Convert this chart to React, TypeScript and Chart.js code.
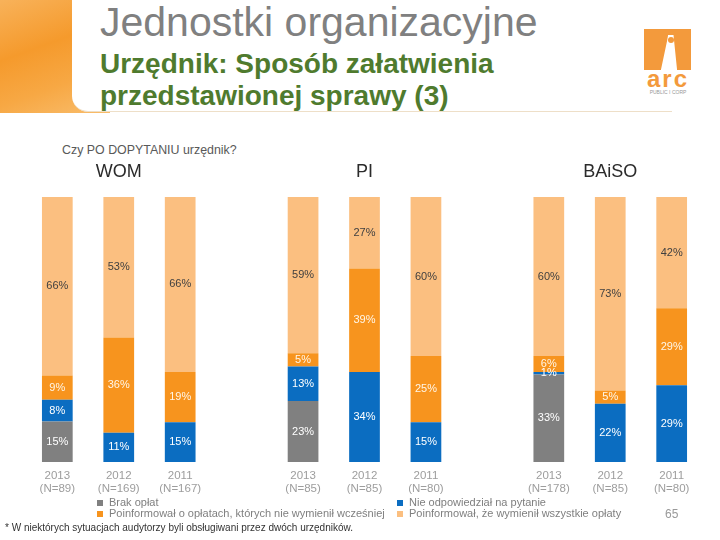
import React, { useEffect, useRef } from 'react';
import { Chart, registerables } from 'chart.js';

Chart.register(...registerables);

const FONT = '"Liberation Sans", Arial, Helvetica, sans-serif';

// Categories (empty slots separate the three groups)
const categories: string[][] = [
  ['2013', '(N=89)'], ['2012', '(N=169)'], ['2011', '(N=167)'], [''],
  ['2013', '(N=85)'], ['2012', '(N=85)'], ['2011', '(N=80)'], [''],
  ['2013', '(N=178)'], ['2012', '(N=85)'], ['2011', '(N=80)'],
];
const groupTitles = ['WOM', 'PI', 'BAiSO'];
const groupCenterIndex = [1, 5, 9];

const seriesNames = [
  'Brak opłat',
  'Nie odpowiedział na pytanie',
  'Poinformował o opłatach, których nie wymienił wcześniej',
  'Poinformował, że wymienił wszystkie opłaty',
];
const brakOplat = [15, null, null, null, 23, null, null, null, 33, null, null];
const nieOdpowiedzial = [8, 11, 15, null, 13, 34, 15, null, 1, 22, 29];
const poinformowalONowych = [9, 36, 19, null, 5, 39, 25, null, 6, 5, 29];
const poinformowalWszystkie = [66, 53, 66, null, 59, 27, 60, null, 60, 73, 42];

const seriesValues: (number | null)[][] = [brakOplat, nieOdpowiedzial, poinformowalONowych, poinformowalWszystkie];
const seriesColors = ['#808080', '#0b6dc1', '#f7941e', '#fbbf80'];
const labelColors = ['#ffffff', '#ffffff', '#fff6e8', '#3f3f3f'];

const legendLayout = [
  { left: 97, top: 496 },
  { left: 397, top: 496 },
  { left: 97, top: 507 },
  { left: 397, top: 507 },
];

function totals(): number[] {
  return categories.map((_, i) =>
    seriesValues.reduce((s, arr) => s + (arr[i] ?? 0), 0)
  );
}

export default function App() {
  const canvasRef = useRef<HTMLCanvasElement | null>(null);

  useEffect(() => {
    document.body.style.margin = '0';
    const canvas = canvasRef.current;
    if (!canvas) return;
    const tot = totals();

    const labelPlugin = {
      id: 'segLabels',
      afterDatasetsDraw(chart: any) {
        const ctx = chart.ctx;
        ctx.save();
        ctx.font = `11px ${FONT}`;
        ctx.textAlign = 'center';
        ctx.textBaseline = 'middle';
        chart.data.datasets.forEach((_: any, di: number) => {
          const meta = chart.getDatasetMeta(di);
          meta.data.forEach((el: any, i: number) => {
            const raw = seriesValues[di][i];
            if (raw == null) return;
            const p = el.getProps(['x', 'y', 'base'], true);
            ctx.fillStyle = labelColors[di];
            ctx.fillText(raw + '%', p.x, (p.y + p.base) / 2);
          });
        });
        // group titles
        const xs = chart.scales.x;
        ctx.font = `18px ${FONT}`;
        ctx.fillStyle = '#2b2b2b';
        groupTitles.forEach((t, gi) => {
          ctx.fillText(t, xs.getPixelForValue(groupCenterIndex[gi]), 17);
        });
        ctx.restore();
      },
    };

    const chart = new Chart(canvas, {
      type: 'bar',
      data: {
        labels: categories,
        datasets: seriesNames.map((name, di) => ({
          label: name,
          data: seriesValues[di].map((v, i) => (v == null ? null : (v / tot[i]) * 100)),
          backgroundColor: seriesColors[di],
          borderWidth: 0,
          barPercentage: 0.5,
          categoryPercentage: 1,
        })),
      },
      options: {
        responsive: false,
        animation: false,
        layout: { padding: { left: 26.6, right: 17.6, top: 42, bottom: 0 } },
        plugins: { legend: { display: false }, tooltip: { enabled: false } },
        scales: {
          x: {
            stacked: true,
            grid: { display: false, drawTicks: false },
            border: { display: false },
            ticks: {
              color: '#9d9d9d',
              font: { family: FONT, size: 11.5, lineHeight: 1.15 },
              padding: 7,
              autoSkip: false,
              maxRotation: 0,
            },
            afterFit: (s: any) => { s.height = 40; },
          },
          y: { stacked: true, display: false, min: 0, max: 100 },
        },
      },
      plugins: [labelPlugin],
    } as any);

    return () => chart.destroy();
  }, []);

  const abs = (s: React.CSSProperties): React.CSSProperties => ({ position: 'absolute', ...s });

  return (
    <div style={{ position: 'fixed', left: 0, top: 0, width: 720, height: 540, background: '#fff', overflow: 'hidden', fontFamily: FONT }}>
      {/* header decoration */}
      <div style={abs({ left: 0, top: 0, width: 110, height: 113, background: 'linear-gradient(160deg, #f8b25a 0%, #f59a2c 40%, #f7a844 70%, #f9bd6c 100%)' })} />
      <div style={abs({ left: 72, top: 0, width: 600, height: 111, background: '#fff', borderBottomLeftRadius: 16, borderBottom: '1px solid #eedfc8' })} />

      <div style={abs({ left: 100, top: 2, fontSize: 41, lineHeight: '41px', color: '#808080', whiteSpace: 'nowrap' })}>Jednostki organizacyjne</div>
      <div style={abs({ left: 100, top: 50, fontSize: 28, lineHeight: '28px', fontWeight: 'bold', color: '#4f7b2e', whiteSpace: 'nowrap' })}>Urzędnik: Sposób załatwienia</div>
      <div style={abs({ left: 100, top: 82, fontSize: 28, lineHeight: '28px', fontWeight: 'bold', color: '#4f7b2e', whiteSpace: 'nowrap' })}>przedstawionej sprawy (3)</div>

      {/* logo */}
      <div style={abs({ left: 644, top: 29, width: 47, height: 41, background: '#f39a3c' })} />
      <div style={abs({ left: 660, top: 35, width: 18, height: 35, background: '#fff', clipPath: 'polygon(45% 0%, 75% 0%, 78% 15%, 95% 100%, 5% 100%, 40% 15%)' })} />
      <div style={abs({ left: 668, top: 37, width: 6, height: 6, borderRadius: 3, background: '#f39a3c' })} />
      <div style={abs({ left: 644, top: 67, width: 48, textAlign: 'center', fontSize: 24, fontWeight: 'bold', color: '#f39a3c', letterSpacing: 2, lineHeight: '24px' })}>arc</div>
      <div style={abs({ left: 644, top: 89, width: 48, textAlign: 'center', fontSize: 5, color: '#999', lineHeight: '6px', whiteSpace: 'nowrap' })}>PUBLIC I CORP</div>

      <div style={abs({ left: 62, top: 143, fontSize: 12.4, lineHeight: '14px', color: '#595959', whiteSpace: 'nowrap' })}>Czy PO DOPYTANIU urzędnik?</div>

      <canvas ref={canvasRef} width={720} height={347} style={abs({ left: 0, top: 155, width: 720, height: 347, display: 'block' })} />

      {/* legend */}
      {seriesNames.map((name, i) => (
        <div key={name} style={abs({ left: legendLayout[i].left, top: legendLayout[i].top, height: 13, display: 'flex', alignItems: 'center', whiteSpace: 'nowrap' })}>
          <span style={{ display: 'inline-block', width: 6, height: 6, background: seriesColors[i], marginRight: 6 }} />
          <span style={{ fontSize: 11, color: '#7f7f7f', lineHeight: '13px' }}>{name}</span>
        </div>
      ))}
      <div style={abs({ left: 665, top: 507, fontSize: 12, lineHeight: '14px', color: '#999' })}>65</div>
      <div style={abs({ left: 5, top: 522, fontSize: 10, lineHeight: '12px', color: '#333', whiteSpace: 'nowrap' })}>* W niektórych sytuacjach audytorzy byli obsługiwani przez dwóch urzędników.</div>
    </div>
  );
}
